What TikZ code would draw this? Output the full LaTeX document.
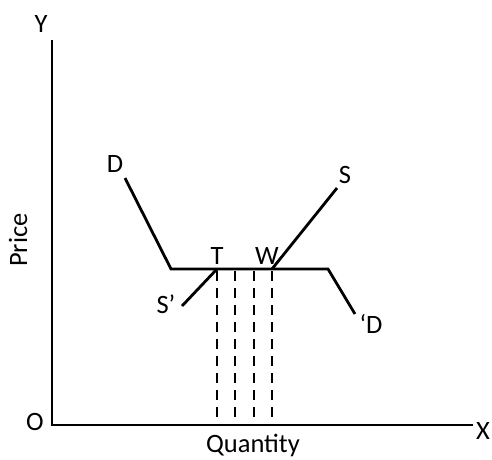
\documentclass[tikz,border=0pt]{standalone}
\usepackage{fontspec}
\setmainfont{Carlito}
\usetikzlibrary{positioning, calc}

\begin{document}
\begin{tikzpicture}[x=1pt, y=-1pt, font=\fontsize{26.5}{30}\selectfont,
    curve/.style={line width=2.8pt},
    guide/.style={line width=2.8pt, dash pattern=on 10pt off 7pt},
    lbl/.style={inner sep=0pt}]

    \useasboundingbox (0,0) rectangle (492,459);

    % Osy
    \coordinate (top) at (52,40);
    \coordinate (O) at (52,425);
    \coordinate (right) at (473,425);
    \draw[curve] (top) -- (O) -- (right);
    \node[lbl] (ylab) at (41,24) {Y};
    \node[lbl] (olab) at (35,422) {O};
    \node[lbl] (xlab) at (483,431) {X};
    \node[lbl] (qlab) at (253,445) {Quantity};
    \node[lbl, rotate=90] (plab) at (18,240) {Price};

    % Poptavka
    \coordinate (d1) at (125,178);
    \coordinate (d2) at (171,269);
    \coordinate (d3) at (328,269);
    \coordinate (d4) at (355,314);
    \draw[curve] (d1) -- (d2) -- (d3) -- (d4);
    \node[lbl] (dtop) at (115,164) {D};
    \node[lbl] (dbot) at (371,324) {`D};

    % Nabidka
    \coordinate (T) at (217,269);
    \coordinate (W) at (272,269);
    \coordinate (s1) at (182,306);
    \coordinate (s2) at (337,188);
    \draw[curve] (s1) -- (T);
    \draw[curve] (W) -- (s2);
    \node[lbl] (stop) at (345,175) {S};
    \node[lbl] (sbot) at (166,304) {S'};
    \node[lbl] (tlab) at (217,256) {T};
    \node[lbl] (wlab) at (267,256) {W};

    % Svisle carky
    \foreach \q in {217,235,254,272}
        \draw[guide] (\q,271) -- (\q,425);

\end{tikzpicture}
\end{document}
